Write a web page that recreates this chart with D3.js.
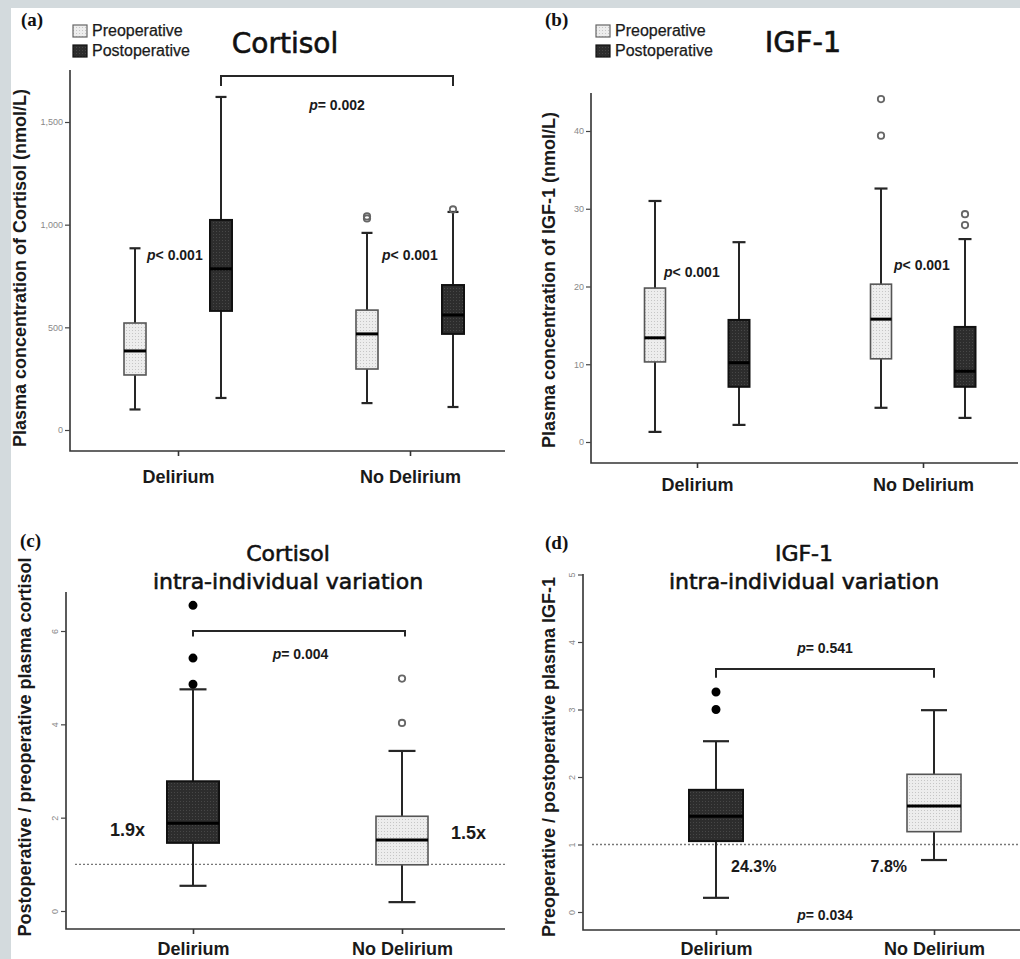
<!DOCTYPE html>
<html>
<head>
<meta charset="utf-8">
<script src="https://cdn.jsdelivr.net/npm/d3@7"></script>
<style>
html, body { margin: 0; padding: 0; background: #d3dadd; }
svg { display: block; }
</style>
</head>
<body>
<svg id="chart" width="1020" height="959"></svg>
<script>
// values, each box is [min, q1, median, q3, max]
const groups = ["Delirium", "No Delirium"];

const cortisolPre = [[100, 268, 385, 521, 885], [131, 297, 468, 584, 960]];
const cortisolPost = [[156, 580, 785, 1023, 1622], [112, 468, 560, 706, 1062]];
const cortisolPreOut = [[], [1030, 1040]];
const cortisolPostOut = [[], [1074]];
const cortisolTicks = [0, 500, 1000, 1500];

const igfPre = [[1.3, 10.3, 13.4, 19.8, 31.0], [4.4, 10.7, 15.8, 20.3, 32.6]];
const igfPost = [[2.2, 7.1, 10.2, 15.7, 25.7], [3.1, 7.1, 9.1, 14.8, 26.1]];
const igfPreOut = [[], [39.4, 44.1]];
const igfPostOut = [[], [27.9, 29.3]];
const igfTicks = [0, 10, 20, 30, 40];

const cortisolRatio = [[0.54, 1.46, 1.88, 2.78, 4.75], [0.19, 0.99, 1.52, 2.03, 3.43]];
const cortisolRatioOut = [[4.86, 5.42, 6.55], [4.03, 4.98]];
const cortisolRatioTicks = [0, 2, 4, 6];
const cortisolRatioLabels = ["1.9x", "1.5x"];

const igfRatio = [[0.21, 1.05, 1.42, 1.81, 2.53], [0.77, 1.19, 1.57, 2.04, 2.99]];
const igfRatioOut = [[3.0, 3.26], []];
const igfRatioTicks = [0, 1, 2, 3, 4, 5];
const igfRatioLabels = ["24.3%", "7.8%"];

const legendLabels = ["Preoperative", "Postoperative"];

// styling
const INK = "#262626";
const SANS = "'Liberation Sans', Arial, sans-serif";
const TITLE = "'DejaVu Sans', Verdana, sans-serif";
const SERIF = "'Liberation Serif', 'Times New Roman', serif";

const svg = d3.select("#chart");
svg.append("rect")
  .attr("x", 11).attr("y", 8)
  .attr("width", 1009).attr("height", 951)
  .attr("fill", "#fff");

// speckled fills like the scanned boxes
const defs = svg.append("defs");
function dotPattern(id, bg, dot) {
  const p = defs.append("pattern")
    .attr("id", id)
    .attr("width", 3).attr("height", 3)
    .attr("patternUnits", "userSpaceOnUse");
  p.append("rect").attr("width", 3).attr("height", 3).attr("fill", bg);
  p.append("rect").attr("width", 1).attr("height", 1).attr("fill", dot);
}
dotPattern("light", "#ededed", "#c6c6c6");
dotPattern("dark", "#2d2d2d", "#474747");

const fills = {light: "url(#light)", dark: "url(#dark)"};
const strokes = {light: "#555", dark: "#111"};

function pText(g, x, y, rest, anchor) {
  const t = g.append("text")
    .attr("x", x).attr("y", y)
    .attr("text-anchor", anchor || "start")
    .attr("fill", "#1a1a1a")
    .style("font", `bold 14px ${SANS}`);
  t.append("tspan").style("font-style", "italic").text("p");
  t.append("tspan").text(rest);
  return t;
}

function bracket(g, x1, x2, yTop, yLeg) {
  g.append("path")
    .attr("d", `M${x1},${yLeg}V${yTop}H${x2}V${yLeg}`)
    .attr("fill", "none")
    .attr("stroke", INK)
    .attr("stroke-width", 2);
}

function label(g, x, y, str, size, anchor) {
  return g.append("text")
    .attr("x", x).attr("y", y)
    .attr("text-anchor", anchor || "start")
    .attr("fill", "#1a1a1a")
    .style("font", `bold ${size}px ${SANS}`)
    .text(str);
}

function legend(g, x0, y0) {
  const rows = g.selectAll(".leg").data(legendLabels).join("g")
    .attr("class", "leg")
    .attr("transform", (d, i) => `translate(${x0},${y0 + i * 20})`);
  rows.append("rect")
    .attr("x", 0).attr("y", -11)
    .attr("width", 14).attr("height", 12)
    .attr("fill", (d, i) => i ? fills.dark : fills.light)
    .attr("stroke", (d, i) => i ? "#111" : "#666")
    .attr("stroke-width", 1.2);
  rows.append("text")
    .attr("x", 19).attr("y", 0)
    .attr("fill", "#1a1a1a")
    .attr("stroke", "#1a1a1a")
    .attr("stroke-width", 0.25)
    .style("font", `16px ${SANS}`)
    .text(d => d);
}

function drawPanel(o) {
  const g = svg.append("g");
  const y = d3.scaleLinear().domain(o.yDomain).range(o.yRange);
  const x = d3.scalePoint().domain(groups).range(o.xRange);

  // axis frame
  g.append("path")
    .attr("d", `M${o.axisX},${o.top}V${o.bottom}H${o.right}`)
    .attr("fill", "none")
    .attr("stroke", "#333")
    .attr("stroke-width", 1.6);

  const ya = g.append("g")
    .attr("transform", `translate(${o.axisX},0)`)
    .call(d3.axisLeft(y).tickValues(o.ticks).tickSize(5).tickPadding(2).tickFormat(o.fmt));
  ya.select(".domain").remove();
  ya.selectAll(".tick line").attr("stroke", "#444").attr("stroke-width", 1.2);
  ya.selectAll(".tick text").attr("fill", "#888").style("font", `9px ${SANS}`);
  if (o.rotateTicks) {
    ya.selectAll(".tick text")
      .attr("transform", "rotate(-90)")
      .attr("text-anchor", "middle")
      .attr("x", 0).attr("y", -8).attr("dy", 0);
  }

  const xa = g.append("g")
    .attr("transform", `translate(0,${o.bottom})`)
    .call(d3.axisBottom(x).tickSize(5).tickPadding(o.labelPad));
  xa.select(".domain").remove();
  xa.selectAll(".tick line").attr("stroke", "#333").attr("stroke-width", 1.6);
  xa.selectAll(".tick text").attr("fill", "#1a1a1a").style("font", `bold 18px ${SANS}`);

  // y axis title
  g.append("text")
    .attr("transform", `translate(${o.yTitleX},${o.yTitleY}) rotate(-90)`)
    .attr("text-anchor", "middle")
    .attr("fill", "#1a1a1a")
    .style("font", `bold 18px ${SANS}`)
    .text(o.yTitle);

  // panel tag and title
  g.append("text")
    .attr("x", o.tag[1]).attr("y", o.tag[2])
    .attr("fill", "#111")
    .style("font", `bold 19px ${SERIF}`)
    .text(o.tag[0]);
  o.title.forEach((t, i) => {
    g.append("text")
      .attr("x", o.titleX).attr("y", o.titleY + i * 28)
      .attr("text-anchor", "middle")
      .attr("fill", "#111")
      .attr("stroke", "#111")
      .attr("stroke-width", 0.6)
      .style("font", `${o.titleSize}px ${TITLE}`)
      .text(t);
  });

  // dotted reference line
  if (o.refLine != null) {
    g.append("line")
      .attr("x1", o.axisX + 9).attr("x2", o.right)
      .attr("y1", y(o.refLine)).attr("y2", y(o.refLine))
      .attr("stroke", "#777")
      .attr("stroke-width", 1.4)
      .attr("stroke-dasharray", "2,2");
  }

  o.series.forEach(s => {
    const items = groups.map((grp, i) => ({
      cx: x(grp) + s.offset,
      st: s.stats[i],
      out: s.out[i],
      kind: s.kinds[i],
      filledOut: s.filledOut[i]
    }));
    const sg = g.append("g");

    sg.selectAll(".whisker").data(items).join("line")
      .attr("class", "whisker")
      .attr("x1", d => d.cx).attr("x2", d => d.cx)
      .attr("y1", d => y(d.st[0])).attr("y2", d => y(d.st[4]))
      .attr("stroke", INK).attr("stroke-width", 2);

    sg.selectAll(".cap")
      .data(items.flatMap(d => [{cx: d.cx, v: d.st[0]}, {cx: d.cx, v: d.st[4]}]))
      .join("line")
      .attr("class", "cap")
      .attr("x1", d => d.cx - o.capW / 2).attr("x2", d => d.cx + o.capW / 2)
      .attr("y1", d => y(d.v)).attr("y2", d => y(d.v))
      .attr("stroke", INK).attr("stroke-width", 2.2);

    sg.selectAll(".box").data(items).join("rect")
      .attr("class", "box")
      .attr("x", d => d.cx - o.bw / 2)
      .attr("y", d => y(d.st[3]))
      .attr("width", o.bw)
      .attr("height", d => y(d.st[1]) - y(d.st[3]))
      .attr("fill", d => fills[d.kind])
      .attr("stroke", d => strokes[d.kind])
      .attr("stroke-width", d => d.kind === "dark" ? 2 : 1.6);

    sg.selectAll(".median").data(items).join("line")
      .attr("class", "median")
      .attr("x1", d => d.cx - o.bw / 2).attr("x2", d => d.cx + o.bw / 2)
      .attr("y1", d => y(d.st[2])).attr("y2", d => y(d.st[2]))
      .attr("stroke", "#000").attr("stroke-width", 3);

    sg.selectAll(".outlier")
      .data(items.flatMap(d => d.out.map(v => ({cx: d.cx, v, filled: d.filledOut}))))
      .join("circle")
      .attr("class", "outlier")
      .attr("cx", d => d.cx).attr("cy", d => y(d.v))
      .attr("r", d => d.filled ? 3.6 : 3.2)
      .attr("fill", d => d.filled ? "#000" : "none")
      .attr("stroke", d => d.filled ? "#000" : "#666")
      .attr("stroke-width", 1.8);
  });

  if (o.extras) o.extras(g, x, y);
}

// (a) Cortisol
drawPanel({
  tag: ["(a)", 21, 26],
  title: ["Cortisol"], titleX: 285, titleY: 53, titleSize: 28,
  yDomain: [0, 1500], yRange: [430, 122],
  xRange: [178, 410],
  axisX: 70, top: 70, bottom: 451, right: 505,
  ticks: cortisolTicks, fmt: d3.format(","),
  labelPad: 14,
  yTitle: "Plasma concentration of Cortisol (nmol/L)", yTitleX: 26, yTitleY: 268,
  bw: 22, capW: 11,
  series: [
    {stats: cortisolPre, out: cortisolPreOut, offset: -43, kinds: ["light", "light"], filledOut: [false, false]},
    {stats: cortisolPost, out: cortisolPostOut, offset: 43, kinds: ["dark", "dark"], filledOut: [false, false]}
  ],
  extras: (g, x, y) => {
    legend(g, 73, 36);
    bracket(g, x(groups[0]) + 43, x(groups[1]) + 43, y(1724), y(1675));
    pText(g, (x(groups[0]) + x(groups[1])) / 2 + 43, y(1558), "= 0.002", "middle");
    pText(g, x(groups[0]) - 31, y(828), "< 0.001");
    pText(g, x(groups[1]) - 28, y(828), "< 0.001");
  }
});

// (b) IGF-1
drawPanel({
  tag: ["(b)", 545, 26],
  title: ["IGF-1"], titleX: 803, titleY: 52, titleSize: 29,
  yDomain: [0, 40], yRange: [442, 131],
  xRange: [697, 923],
  axisX: 591, top: 93, bottom: 463, right: 1018,
  ticks: igfTicks, fmt: d3.format("d"),
  labelPad: 10,
  yTitle: "Plasma concentration of IGF-1 (nmol/L)", yTitleX: 555, yTitleY: 280,
  bw: 21, capW: 13,
  series: [
    {stats: igfPre, out: igfPreOut, offset: -42, kinds: ["light", "light"], filledOut: [false, false]},
    {stats: igfPost, out: igfPostOut, offset: 42, kinds: ["dark", "dark"], filledOut: [false, false]}
  ],
  extras: (g, x, y) => {
    legend(g, 596, 36);
    pText(g, x(groups[0]) - 33, y(21.2), "< 0.001");
    pText(g, x(groups[1]) - 29, y(22.1), "< 0.001");
  }
});

// (c) Cortisol ratio
drawPanel({
  tag: ["(c)", 20, 547],
  title: ["Cortisol", "intra-individual variation"], titleX: 288, titleY: 561, titleSize: 22,
  yDomain: [0, 6], yRange: [911, 631],
  xRange: [193, 402],
  axisX: 66, top: 592, bottom: 929, right: 505,
  ticks: cortisolRatioTicks, fmt: d3.format("d"), rotateTicks: true,
  labelPad: 8,
  yTitle: "Postoperative / preoperative plasma cortisol", yTitleX: 31, yTitleY: 747,
  bw: 52, capW: 27,
  refLine: 1,
  series: [
    {stats: cortisolRatio, out: cortisolRatioOut, offset: 0, kinds: ["dark", "light"], filledOut: [true, false]}
  ],
  extras: (g, x, y) => {
    bracket(g, x(groups[0]), x(groups[1]) + 3, y(6.0), y(5.88));
    pText(g, (x(groups[0]) + x(groups[1])) / 2 + 3, y(5.4), "= 0.004", "middle");
    label(g, x(groups[0]) - 48, y(1.6), cortisolRatioLabels[0], 18, "end");
    label(g, x(groups[1]) + 49, y(1.54), cortisolRatioLabels[1], 18, "start");
  }
});

// (d) IGF-1 ratio
drawPanel({
  tag: ["(d)", 545, 549],
  title: ["IGF-1", "intra-individual variation"], titleX: 804, titleY: 561, titleSize: 22,
  yDomain: [0, 5], yRange: [912, 574.5],
  xRange: [716, 934],
  axisX: 583, top: 574, bottom: 930, right: 1020,
  ticks: igfRatioTicks, fmt: d3.format("d"), rotateTicks: true,
  labelPad: 7,
  yTitle: "Preoperative / postoperative plasma IGF-1", yTitleX: 555, yTitleY: 757,
  bw: 54, capW: 26,
  refLine: 1,
  series: [
    {stats: igfRatio, out: igfRatioOut, offset: 0, kinds: ["dark", "light"], filledOut: [true, false]}
  ],
  extras: (g, x, y) => {
    const mid = (x(groups[0]) + x(groups[1])) / 2;
    bracket(g, x(groups[0]), x(groups[1]), y(3.6), y(3.47));
    pText(g, mid, y(3.84), "= 0.541", "middle");
    label(g, x(groups[0]) + 15, y(0.59), igfRatioLabels[0], 16, "start");
    label(g, x(groups[1]) - 27, y(0.59), igfRatioLabels[1], 16, "end");
    pText(g, mid, y(-0.12), "= 0.034", "middle");
  }
});
</script>
</body>
</html>
